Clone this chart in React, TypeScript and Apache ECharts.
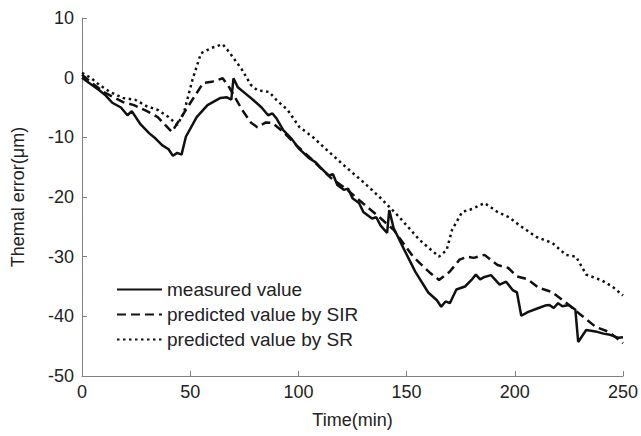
import React, { useEffect, useRef } from "react";
import * as echarts from "echarts";

const xTicks = [0, 50, 100, 150, 200, 250];
const yTicks = [-50, -40, -30, -20, -10, 0, 10];

const measuredTime = [0, 3, 8, 11, 14, 18, 21, 23, 27, 31, 34, 37, 40, 42, 44, 46, 48, 53, 58, 64, 67, 69, 70, 72, 76, 79, 83, 86, 88, 90, 93, 97, 100, 105, 108, 110, 114, 116, 118, 121, 123, 125, 128, 130, 134, 136, 138, 141, 142, 144, 149, 154, 160, 164, 166, 168, 170, 173, 177, 180, 182, 184, 186, 189, 191, 193, 196, 199, 201, 203, 206, 211, 214, 216, 218, 220, 222, 225, 228, 229.3, 233, 238, 241, 244, 248, 250];
const measuredValue = [0, -0.8, -2.1, -3.0, -4.2, -5.0, -6.3, -5.6, -7.8, -9.3, -10.2, -11.3, -12.0, -13.1, -12.6, -12.9, -9.9, -6.6, -4.6, -3.4, -3.3, -3.7, -0.1, -1.6, -2.8, -3.7, -5.0, -6.3, -6.0, -6.9, -8.8, -10.3, -11.8, -13.5, -14.2, -15.0, -16.4, -16.2, -18.0, -18.8, -18.6, -20.2, -21.0, -22.5, -23.6, -23.4, -24.8, -26.0, -22.2, -25.2, -28.9, -32.5, -36.0, -37.3, -38.4, -37.5, -37.8, -35.5, -35.0, -33.9, -33.0, -33.8, -33.4, -33.1, -33.9, -34.7, -34.2, -35.6, -36.0, -39.9, -39.3, -38.6, -38.2, -38.1, -38.6, -37.8, -38.3, -38.1, -38.9, -44.3, -42.3, -42.6, -42.9, -43.1, -43.6, -43.5];

const sirTime = [0, 5, 10, 19, 24, 30, 35, 41.5, 45, 51, 56, 60, 65, 68, 74, 78, 81, 85, 88, 93, 99, 106.5, 115, 122, 128, 137.5, 144, 149, 153, 160.5, 165, 170, 174.5, 178, 181, 186, 192, 197, 201, 206, 211, 217, 224, 230, 237.5, 243.5, 250];
const sirValue = [0.5, -1.0, -2.4, -4.1, -4.6, -5.6, -6.6, -9.1, -7.1, -3.7, -0.9, -0.7, -0.1, -1.6, -5.4, -7.5, -8.3, -7.5, -7.6, -9.1, -11.3, -13.8, -16.8, -18.6, -20.5, -23.4, -25.5, -28.0, -30.0, -32.6, -33.9, -32.5, -30.5, -30.0, -30.2, -29.7, -31.4, -31.9, -33.3, -33.8, -35.2, -35.9, -37.8, -39.6, -41.8, -42.6, -44.5];

const srTime = [0, 4, 8, 13, 19, 24.5, 30, 35, 40, 44, 47, 51, 55, 60, 65, 68, 74, 78, 81, 86.5, 90, 95, 100.5, 106.5, 114, 122, 130, 137.5, 146.7, 156, 165, 168.5, 171, 175.7, 180.3, 186, 192, 197.4, 202, 210, 217.3, 223.7, 228.3, 233, 240.3, 245, 250];
const srValue = [0.8, 0, -1.2, -2.4, -3.4, -3.7, -4.8, -5.4, -6.6, -7.9, -6.0, -0.4, 4.1, 5.0, 5.6, 4.3, 1.3, -1.2, -2.1, -2.4, -3.8, -5.4, -8.3, -9.9, -12.4, -15.0, -17.5, -20.0, -23.4, -27.2, -30.0, -28.9, -25.5, -22.5, -22.0, -21.0, -22.5, -23.4, -24.7, -26.7, -27.7, -29.7, -30.0, -33.0, -34.0, -35.0, -36.5];

const seriesNames = ["measured value", "predicted value by SIR", "predicted value by SR"];

const pairs = (xs: number[], ys: number[]) => xs.map((x, i) => [x, ys[i]]);

const FONT = "'Liberation Sans', Arial, Helvetica, sans-serif";
const TEXT = "#222222";
const AXIS = "#808080";
const LINE = "#111111";

export default function App() {
  const ref = useRef<HTMLDivElement>(null);
  useEffect(() => {
    if (!ref.current) return;
    const chart = echarts.init(ref.current, undefined, { renderer: "svg" });
    chart.setOption({
      animation: false,
      backgroundColor: "#ffffff",
      grid: { left: 82, right: 17, top: 18, bottom: 60, containLabel: false },
      legend: {
        orient: "vertical",
        left: 111,
        top: 275,
        itemWidth: 45,
        itemHeight: 14,
        itemGap: 6,
        itemStyle: { opacity: 0, borderWidth: 0 },
        textStyle: { fontFamily: FONT, fontSize: 19, color: TEXT },
        data: seriesNames,
      },
      xAxis: {
        type: "value",
        min: xTicks[0],
        max: xTicks[xTicks.length - 1],
        interval: 50,
        name: "Time(min)",
        nameLocation: "middle",
        nameGap: 35,
        nameTextStyle: { fontFamily: FONT, fontSize: 18, color: TEXT },
        axisLine: { show: true, onZero: false, lineStyle: { color: AXIS, width: 1 } },
        axisTick: { show: true, inside: true, length: 5, lineStyle: { color: AXIS } },
        axisLabel: { fontFamily: FONT, fontSize: 18, color: TEXT, margin: 7 },
        splitLine: { show: false },
      },
      yAxis: {
        type: "value",
        min: yTicks[0],
        max: yTicks[yTicks.length - 1],
        interval: 10,
        name: "Themal error(μm)",
        nameLocation: "middle",
        nameGap: 55,
        nameRotate: 90,
        nameTextStyle: { fontFamily: FONT, fontSize: 18, color: TEXT },
        axisLine: { show: true, onZero: false, lineStyle: { color: AXIS, width: 1 } },
        axisTick: { show: true, inside: true, length: 5, lineStyle: { color: AXIS } },
        axisLabel: { fontFamily: FONT, fontSize: 18, color: TEXT, margin: 8 },
        splitLine: { show: false },
      },
      series: [
        {
          name: seriesNames[0],
          type: "line",
          data: pairs(measuredTime, measuredValue),
          showSymbol: false,
          symbol: "none",
          lineStyle: { color: LINE, width: 2.5, type: "solid" },
          itemStyle: { color: LINE },
        },
        {
          name: seriesNames[1],
          type: "line",
          data: pairs(sirTime, sirValue),
          showSymbol: false,
          symbol: "none",
          lineStyle: { color: LINE, width: 2.5, type: [9, 5] },
          itemStyle: { color: LINE },
        },
        {
          name: seriesNames[2],
          type: "line",
          data: pairs(srTime, srValue),
          showSymbol: false,
          symbol: "none",
          lineStyle: { color: LINE, width: 2.5, type: [2.5, 3.5] },
          itemStyle: { color: LINE },
        },
      ],
    });
    return () => chart.dispose();
  }, []);
  return (
    <div
      ref={ref}
      style={{ position: "fixed", left: 0, top: 0, width: 641, height: 436, background: "#fff" }}
    />
  );
}
